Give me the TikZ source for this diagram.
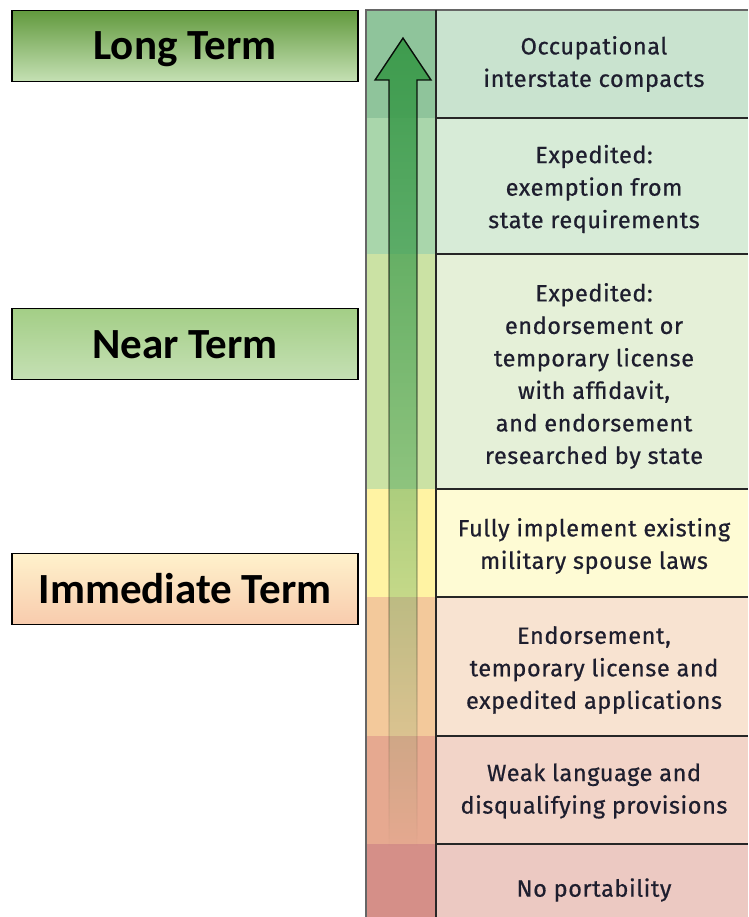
\documentclass[tikz,border=0pt]{standalone}
\usepackage{fontspec}
\setmainfont[LetterSpace=2.5, FakeBold=0.6]{Fira Sans}
\newfontfamily\labelfont{Carlito}
\usetikzlibrary{fadings}

\definecolor{stripA}{HTML}{8FC49B}
\definecolor{stripB}{HTML}{A9D6AB}
\definecolor{stripC}{HTML}{CBE2A4}
\definecolor{stripD}{HTML}{FFF3A3}
\definecolor{stripE}{HTML}{F3C99B}
\definecolor{stripF}{HTML}{E6A990}
\definecolor{stripG}{HTML}{D58F88}
\definecolor{cellA}{HTML}{C9E3CF}
\definecolor{cellB}{HTML}{D7EBD7}
\definecolor{cellC}{HTML}{E5F0D8}
\definecolor{cellD}{HTML}{FEFBD4}
\definecolor{cellE}{HTML}{F8E3D1}
\definecolor{cellF}{HTML}{F2D4C8}
\definecolor{cellG}{HTML}{ECC9C2}
\definecolor{arrowgreen}{HTML}{3A9A4A}
\definecolor{longTop}{HTML}{629A3E}
\definecolor{longMid}{HTML}{92D050}
\definecolor{longBot}{HTML}{C5E0B4}
\definecolor{nearTop}{HTML}{A3CE86}
\definecolor{nearFill}{HTML}{C5E0B4}
\definecolor{nowTop}{HTML}{FFF2CC}
\definecolor{nowBot}{HTML}{F8CBAD}
\definecolor{celltext}{HTML}{1E1E2E}

\tikzfading[name=arrowfade, top color=transparent!5, bottom color=transparent!100]

\begin{document}
\begin{tikzpicture}[x=1pt,y=-1pt,
    termbox/.style={draw, line width=1.5pt, minimum width=346pt, minimum height=71pt,
        inner sep=0pt, text height=28pt, text depth=0pt,
        font=\labelfont\bfseries\fontsize{43}{50}\selectfont},
    cell/.style={align=center, text=celltext, font=\fontsize{23.5}{32.5}\selectfont},
    rule/.style={line width=1.5pt, black!85}]
\useasboundingbox (0,0) rectangle (748,917);

% colour bands: strip on the left, cell on the right
\foreach \top/\bot/\sc/\cc in {10/118/stripA/cellA, 118/254/stripB/cellB,
        254/489/stripC/cellC, 489/597/stripD/cellD, 597/736/stripE/cellE,
        736/844/stripF/cellF, 844/917/stripG/cellG} {
    \fill[\sc] (366,\top) rectangle (436,\bot);
    \fill[\cc] (436,\top) rectangle (748,\bot);
}

% the rising arrow
\path[fill=arrowgreen, draw=black, line width=1.4pt, path fading=arrowfade]
    (403,37) -- (431,79) -- (417,79) -- (417,845) -- (389,845) -- (389,79)
    -- (375,79) -- cycle;

% frame and rules
\draw[rule, black!60] (366,917) -- (366,10) -- (748,10);
\draw[rule] (436,10) -- (436,917);
\foreach \y in {118,254,489,597,736,844}
    \draw[rule] (436,\y) -- (748,\y);

% cell texts
\node[cell] (occ) at (594,64) {Occupational\\interstate compacts};
\node[cell] (exem) at (594,189) {Expedited:\\exemption from\\state requirements};
\node[cell] (endo) at (594,376) {Expedited:\\endorsement or\\temporary license\\with affidavit,\\and endorsement\\researched by state};
\node[cell] (mil) at (594,546) {Fully implement existing\\military spouse laws};
\node[cell] (temp) at (594,670) {Endorsement,\\temporary license and\\expedited applications};
\node[cell] (weak) at (594,791) {Weak language and\\disqualifying provisions};
\node[cell] (none) at (594,890) {No portability};

% term labels
\node[termbox, top color=longTop, middle color=longMid, bottom color=longBot] (long) at (185,46) {Long Term};
\node[termbox, top color=nearTop, middle color=nearFill, bottom color=nearFill] (near) at (185,344) {Near Term};
\node[termbox, top color=nowTop, middle color=nowTop!60!nowBot, bottom color=nowBot] (now) at (185,589) {Immediate Term};
\end{tikzpicture}
\end{document}
